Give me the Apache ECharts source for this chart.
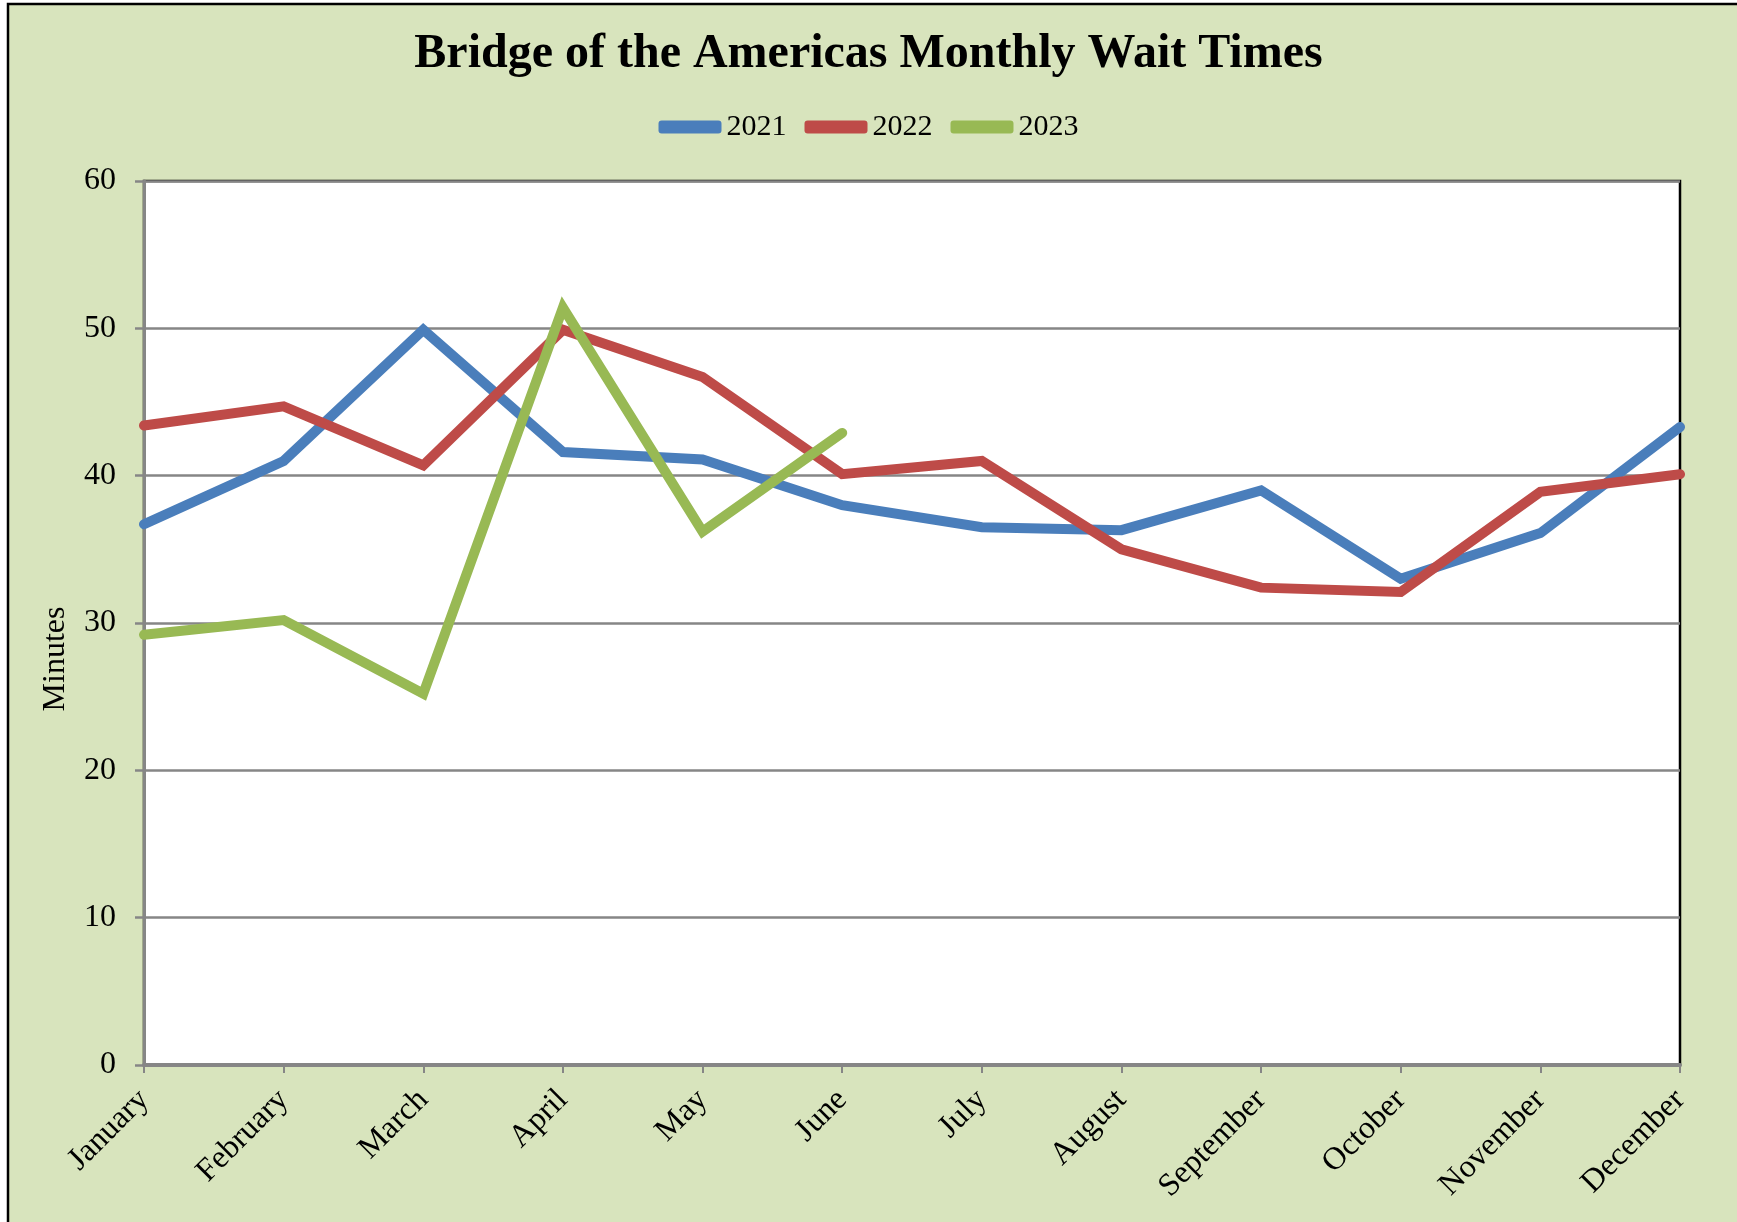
<!DOCTYPE html>
<html>
<head>
<meta charset="utf-8">
<script src="https://cdn.jsdelivr.net/npm/echarts@6/dist/echarts.min.js"></script>
<style>
    html, body { margin: 0; padding: 0; background: #ffffff; }
    #main { width: 1737px; height: 1222px; }
</style>
</head>
<body>
<div id="main"></div>
<script>
var months = ['January', 'February', 'March', 'April', 'May', 'June',
    'July', 'August', 'September', 'October', 'November', 'December'];
var yTicks = [0, 10, 20, 30, 40, 50, 60];

var wait2021 = [36.7, 41.0, 49.9, 41.6, 41.1, 38.0, 36.5, 36.3, 39.0, 33.0, 36.1, 43.3];
var wait2022 = [43.4, 44.7, 40.7, 49.9, 46.7, 40.1, 41.0, 35.0, 32.4, 32.1, 38.9, 40.1];
var wait2023 = [29.2, 30.2, 25.2, 51.4, 36.2, 42.9];

var seriesNames = ['2021', '2022', '2023'];
var seriesColors = ['#4a7ebb', '#be4b48', '#98b954'];

function render() {
    var myChart = echarts.init(document.getElementById('main'));
    var font = '"Liberation Serif", "Times New Roman", serif';
    var allData = [wait2021, wait2022, wait2023];

    var seriesArr = [];
    for (var i = 0; i < seriesNames.length; i++) {
        seriesArr.push({
            name: seriesNames[i],
            type: 'line',
            data: allData[i],
            showSymbol: false,
            symbol: 'none',
            z: 3 + i,
            lineStyle: { width: 10, color: seriesColors[i], cap: 'round', join: 'miter' },
            itemStyle: { color: seriesColors[i] }
        });
    }

    var option = {
        backgroundColor: '#ffffff',
        animation: false,
        graphic: [{
            type: 'rect',
            z: -10,
            shape: { x: 8, y: 4, width: 1740, height: 1230 },
            style: { fill: '#d8e4bd', stroke: '#000000', lineWidth: 2.5 }
        }],
        title: {
            text: 'Bridge of the Americas Monthly Wait Times',
            left: 'center',
            top: 26,
            textStyle: { fontFamily: font, fontSize: 48, fontWeight: 'bold', color: '#000000' }
        },
        legend: {
            data: seriesNames,
            left: 'center',
            top: 107,
            icon: 'roundRect',
            itemWidth: 63,
            itemHeight: 13,
            itemGap: 18,
            textStyle: { fontFamily: font, fontSize: 30, color: '#000000' }
        },
        grid: {
            left: 144,
            right: 57,
            top: 181,
            bottom: 157,
            show: true,
            backgroundColor: '#ffffff',
            borderColor: '#000000',
            borderWidth: 2.5
        },
        xAxis: [{
            type: 'category',
            boundaryGap: false,
            data: months,
            axisLine: { lineStyle: { color: '#868686', width: 4 } },
            axisTick: { show: true, alignWithLabel: true, length: 8, lineStyle: { color: '#868686', width: 2 } },
            axisLabel: {
                rotate: 45,
                margin: 30,
                fontFamily: font,
                fontSize: 32,
                color: '#000000',
                interval: 0
            },
            splitLine: { show: false }
        }],
        yAxis: [{
            type: 'value',
            min: yTicks[0],
            max: yTicks[yTicks.length - 1],
            interval: 10,
            name: 'Minutes',
            nameLocation: 'middle',
            nameGap: 72,
            nameRotate: 90,
            nameTextStyle: { fontFamily: font, fontSize: 32, color: '#000000', padding: [0, 72, 0, 0] },
            axisLine: { show: true, lineStyle: { color: '#868686', width: 3 } },
            axisTick: { show: true, length: 9, lineStyle: { color: '#868686', width: 2.5 } },
            axisLabel: { margin: 28, fontFamily: font, fontSize: 32, color: '#000000' },
            splitLine: { show: true, lineStyle: { color: '#868686', width: 2.5 } }
        }],
        series: seriesArr
    };

    myChart.setOption(option);
}

render();
</script>
</body>
</html>
